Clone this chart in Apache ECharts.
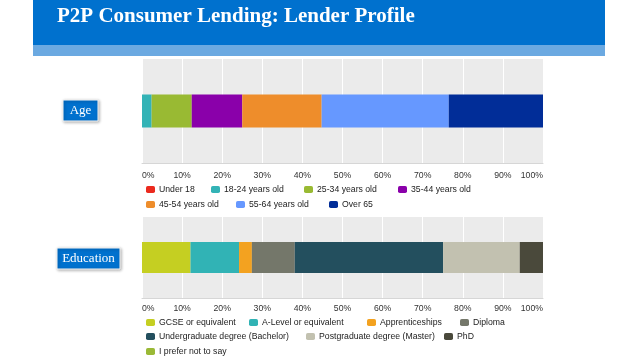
<!DOCTYPE html>
<html>
<head>
<meta charset="utf-8">
<script src="https://cdn.jsdelivr.net/npm/echarts@6/dist/echarts.min.js"></script>
<style>
html,body{margin:0;padding:0;background:#fff;}
#c{width:638px;height:359px;}
</style>
</head>
<body>
<div id="c"></div>
<script>
// ---- data ----
const titleText = 'P2P Consumer Lending: Lender Profile';
const ageLabel = 'Age';
const eduLabel = 'Education';
const ageCategories = ['Under 18', '18-24 years old', '25-34 years old', '35-44 years old', '45-54 years old', '55-64 years old', 'Over 65'];
const ageValues = [0, 2.4, 10.0, 12.6, 19.8, 31.7, 23.5];
const eduCategories = ['GCSE or equivalent', 'A-Level or equivalent', 'Apprenticeships', 'Diploma', 'Undergraduate degree (Bachelor)', 'Postgraduate degree (Master)', 'PhD', 'I prefer not to say'];
const eduValues = [12.1, 12.1, 3.2, 10.7, 37.0, 19.1, 5.8, 0];
const tickValues = [0, 10, 20, 30, 40, 50, 60, 70, 80, 90, 100];

// ---- styles ----
const ageColors = ['#EB2A1E', '#33B3B6', '#99BA33', '#8A00AA', '#EE8D2B', '#6698FF', '#012D98'];
const eduColors = ['#C5CF22', '#31B3B5', '#F3A220', '#74776A', '#234F5E', '#C2C1B0', '#4A493B', '#9AB936'];
const ageLegendPos = [[146,185],[211,185],[304,185],[398,185],[146,200],[236,200],[329,200]];
const eduLegendPos = [[146,318],[249,318],[367,318],[460,318],[146,332],[306,332],[444,332],[146,347]];

const chart = echarts.init(document.getElementById('c'), null, {renderer: 'canvas'});

function makeAxis(gridIndex, margin) {
  return {
    type: 'value', gridIndex: gridIndex, min: 0, max: 100, interval: 10,
    axisLine: {show: true, lineStyle: {color: '#D6D6D6', width: 1}},
    axisTick: {show: false},
    splitLine: {show: true, lineStyle: {color: '#FFFFFF', width: 1}},
    axisLabel: {
      formatter: v => tickValues.indexOf(v) >= 0 ? v + '%' : '',
      color: '#333', fontFamily: 'Liberation Sans, Arial', fontSize: 8.7, margin: margin,
      alignMinLabel: 'left', alignMaxLabel: 'right'
    }
  };
}

const series = [];
ageCategories.forEach((name, i) => {
  series.push({
    name: name, type: 'bar', stack: 'age', xAxisIndex: 0, yAxisIndex: 0,
    data: [ageValues[i]], barWidth: 33, itemStyle: {color: ageColors[i]},
    emphasis: {disabled: true}
  });
});
eduCategories.forEach((name, i) => {
  series.push({
    name: name, type: 'bar', stack: 'edu', xAxisIndex: 1, yAxisIndex: 1,
    data: [eduValues[i]], barWidth: 31, itemStyle: {color: eduColors[i]},
    emphasis: {disabled: true}
  });
});

const legends = [];
ageCategories.forEach((name, i) => {
  legends.push({data: [name], left: ageLegendPos[i][0], top: ageLegendPos[i][1], padding: 0,
    itemWidth: 9, itemHeight: 7, icon: 'roundRect', itemGap: 0,
    textStyle: {color: '#222', fontFamily: 'Liberation Sans, Arial', fontSize: 8.7, padding: [0,0,0,-1]},
    selectedMode: false});
});
eduCategories.forEach((name, i) => {
  legends.push({data: [name], left: eduLegendPos[i][0], top: eduLegendPos[i][1], padding: 0,
    itemWidth: 9, itemHeight: 7, icon: 'roundRect', itemGap: 0,
    textStyle: {color: '#222', fontFamily: 'Liberation Sans, Arial', fontSize: 8.7, padding: [0,0,0,-1]},
    selectedMode: false});
});

chart.setOption({
  animation: false,
  backgroundColor: '#FFFFFF',
  grid: [
    {left: 142, right: 95, top: 59, height: 104, show: true, backgroundColor: '#EBEBEB', borderWidth: 0},
    {left: 142, right: 95, top: 217, height: 81, show: true, backgroundColor: '#EBEBEB', borderWidth: 0}
  ],
  xAxis: [makeAxis(0, 8), makeAxis(1, 6)],
  yAxis: [
    {type: 'category', gridIndex: 0, data: [ageLabel], show: false},
    {type: 'category', gridIndex: 1, data: [eduLabel], show: false}
  ],
  legend: legends,
  series: series,
  graphic: [
    {type: 'rect', shape: {x: 33, y: 0, width: 572, height: 45}, style: {fill: '#0071CE'}, z: 0},
    {type: 'rect', shape: {x: 33, y: 45, width: 572, height: 11}, style: {fill: '#6BA9E1'}, z: 0},
    {type: 'text', left: 57, top: 6, style: {text: titleText, fill: '#FFFFFF',
      font: 'bold 21px "Liberation Serif", "Times New Roman", serif'}, z: 10},
    {type: 'rect', shape: {x: 63, y: 100, width: 35, height: 21}, style: {fill: '#0071CE',
      shadowBlur: 3, shadowColor: 'rgba(0,0,0,0.3)', shadowOffsetX: 1, shadowOffsetY: 1, stroke: '#F4F4F4', lineWidth: 1}, z: 10},
    {type: 'text', x: 80.5, y: 110.5, style: {text: ageLabel, fill: '#FFFFFF', align: 'center', verticalAlign: 'middle',
      font: '13px "Liberation Serif", "Times New Roman", serif'}, z: 11},
    {type: 'rect', shape: {x: 57, y: 248, width: 63, height: 21}, style: {fill: '#0071CE',
      shadowBlur: 3, shadowColor: 'rgba(0,0,0,0.3)', shadowOffsetX: 1, shadowOffsetY: 1, stroke: '#F4F4F4', lineWidth: 1}, z: 10},
    {type: 'text', x: 88.5, y: 258.5, style: {text: eduLabel, fill: '#FFFFFF', align: 'center', verticalAlign: 'middle',
      font: '13px "Liberation Serif", "Times New Roman", serif'}, z: 11}
  ]
});
</script>
</body>
</html>
